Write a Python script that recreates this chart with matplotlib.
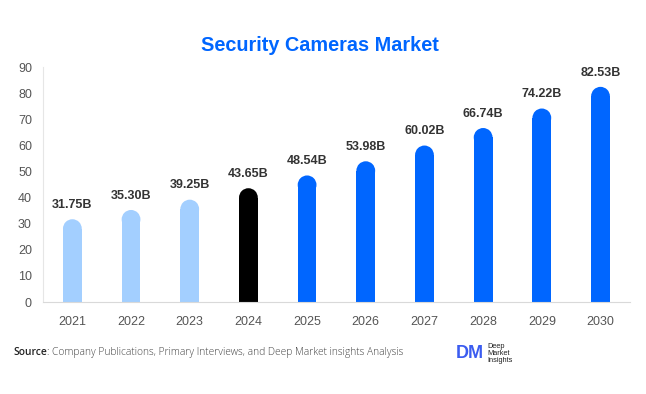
import matplotlib
matplotlib.use('Agg')
from matplotlib import pyplot as plt
from matplotlib.patches import Ellipse

years = ['2021', '2022', '2023', '2024', '2025', '2026', '2027', '2028', '2029', '2030']
values = [31.75, 35.30, 39.25, 43.65, 48.54, 53.98, 60.02, 66.74, 74.22, 82.53]
labels = ['31.75B', '35.30B', '39.25B', '43.65B', '48.54B', '53.98B', '60.02B', '66.74B', '74.22B', '82.53B']
colors = ['#a3cfff'] * 3 + ['#000000'] + ['#0066ff'] * 6

plt.rcParams['font.family'] = ['Liberation Sans', 'DejaVu Sans']

fig = plt.figure(figsize=(6.46, 3.94), dpi=100)
ax = fig.add_axes([0.0666, 0.2335, 0.9084, 0.5955])

barW = 0.32
ax.set_xlim(-0.5, 9.5)
ax.set_ylim(0, 90)

# radius of the rounded cap in data units (half bar width in pixels)
axW = 0.9084 * 646
axH = 0.5955 * 394
rPx = barW / 10.0 * axW / 2
rData = rPx * 90.0 / axH

for i, v in enumerate(values):
    ax.bar(i, v - rData, width=barW, color=colors[i], linewidth=0)
    ax.add_patch(Ellipse((i, v - rData), barW, 2 * rData, color=colors[i], linewidth=0))
    ax.annotate(labels[i], (i, v), xytext=(0, 6), textcoords='offset points',
                ha='center', va='bottom', fontsize=9, fontweight='bold', color='#333333')

ax.set_xticks(range(len(years)))
ax.set_xticklabels(years)
ax.set_yticks(range(0, 91, 10))
ax.tick_params(axis='both', length=0, labelsize=9, labelcolor='#555555')
ax.tick_params(axis='x', pad=10)
ax.tick_params(axis='y', pad=8)
for s in ['top', 'right']:
    ax.spines[s].set_visible(False)
ax.spines['left'].set_color('#e6e6e6')
ax.spines['bottom'].set_color('#d9d9d9')

fig.text(0.495, 0.885, 'Security Cameras Market', ha='center', va='center',
         fontsize=14.3, fontweight='bold', color='#0066ff')

# source line: bold "Source" then the rest right after it
src = fig.text(0.021, 0.105, 'Source', ha='left', va='center', fontsize=7.4,
               color='#222222', family='Open Sans', fontweight='semibold')
fig.canvas.draw()
bb = src.get_window_extent(fig.canvas.get_renderer())
x1 = bb.x1 / fig.bbox.width
fig.text(x1, 0.105, ': Company Publications, Primary Interviews, and Deep Market insights Analysis',
         ha='left', va='center', fontsize=7.4, color='#444444', family='Open Sans', fontweight='light')

fig.text(0.706, 0.103, 'DM', ha='left', va='center', fontsize=13, fontweight='bold', color='#3b5cf0')
fig.text(0.754, 0.103, 'Deep\nMarket\nInsights', ha='left', va='center', fontsize=5.3,
         color='#222222', linespacing=1.0)

plt.savefig('out.png', dpi=100)
